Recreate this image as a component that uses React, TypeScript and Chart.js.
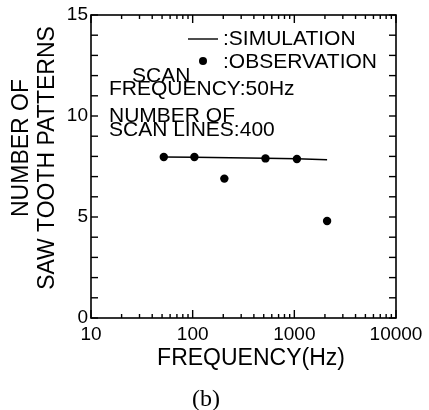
import React, { useEffect, useRef } from "react";
import { Chart, registerables } from "chart.js";

Chart.register(...registerables);

// ---- data ----
const OBS_FREQ = [52, 104, 205, 520, 1060, 2100];
const OBS_COUNT = [7.97, 7.97, 6.9, 7.9, 7.87, 4.8];
const SIM_FREQ = [52, 104, 520, 1060, 2100];
const SIM_COUNT = [7.97, 7.96, 7.91, 7.88, 7.83];
const X_DECADES = [10, 100, 1000, 10000];
const Y_LABELS = [0, 5, 10, 15];

const SANS = '"Liberation Sans", Arial, sans-serif';

const decorPlugin = {
  id: "decor",
  afterDraw(chart: any) {
    const { ctx, chartArea: a, scales } = chart;
    const xs = scales.x;
    const ys = scales.y;
    ctx.save();
    ctx.strokeStyle = "#000";
    ctx.fillStyle = "#000";
    ctx.lineWidth = 1.6;
    ctx.strokeRect(a.left, a.top, a.right - a.left, a.bottom - a.top);
    const seg = (x1: number, y1: number, x2: number, y2: number) => {
      ctx.beginPath();
      ctx.moveTo(x1, y1);
      ctx.lineTo(x2, y2);
      ctx.stroke();
    };
    ctx.lineWidth = 1.4;
    xs.ticks.forEach((t: any) => {
      const px = xs.getPixelForValue(t.value);
      const lg = Math.log10(t.value);
      const major = Math.abs(lg - Math.round(lg)) < 1e-6;
      const len = major ? 8 : 4;
      seg(px, a.bottom, px, a.bottom - len);
      seg(px, a.top, px, a.top + len);
    });
    ys.ticks.forEach((t: any) => {
      const py = ys.getPixelForValue(t.value);
      seg(a.left, py, a.left + 7, py);
      seg(a.right, py, a.right - 7, py);
    });

    // legend
    ctx.lineWidth = 1.4;
    seg(188, 39, 218, 39);
    ctx.beginPath();
    ctx.arc(203, 61, 4, 0, Math.PI * 2);
    ctx.fill();
    ctx.font = `21px ${SANS}`;
    ctx.textAlign = "left";
    ctx.textBaseline = "alphabetic";
    ctx.fillText(":SIMULATION", 223, 45);
    ctx.fillText(":OBSERVATION", 223, 67.5);

    // annotations
    ctx.fillText("SCAN", 132, 81.5);
    ctx.fillText("FREQUENCY:50Hz", 109, 95);
    ctx.fillText("NUMBER OF", 109, 121.5);
    ctx.fillText("SCAN LINES:400", 109, 136);

    // axis titles
    ctx.font = `23px ${SANS}`;
    ctx.textAlign = "center";
    ctx.fillText("FREQUENCY(Hz)", 251, 365);
    ctx.save();
    ctx.textBaseline = "middle";
    ctx.translate(22, 148);
    ctx.rotate(-Math.PI / 2);
    ctx.fillText("NUMBER OF", 0, 0);
    ctx.restore();
    ctx.save();
    ctx.textBaseline = "middle";
    ctx.translate(48, 158);
    ctx.rotate(-Math.PI / 2);
    ctx.fillText("SAW TOOTH PATTERNS", 0, 0);
    ctx.restore();

    // caption
    ctx.font = `24px "Liberation Serif", "Times New Roman", serif`;
    ctx.textAlign = "center";
    ctx.fillText("(b)", 206, 406);
    ctx.restore();
  },
};

export default function App() {
  const ref = useRef<HTMLCanvasElement | null>(null);
  useEffect(() => {
    if (!ref.current) return;
    const chart = new Chart(ref.current, {
      type: "scatter",
      data: {
        datasets: [
          {
            label: "SIMULATION",
            data: SIM_FREQ.map((f, i) => ({ x: f, y: SIM_COUNT[i] })),
            showLine: true,
            borderColor: "#000",
            borderWidth: 1.5,
            pointRadius: 0,
          },
          {
            label: "OBSERVATION",
            data: OBS_FREQ.map((f, i) => ({ x: f, y: OBS_COUNT[i] })),
            showLine: false,
            pointRadius: 4.2,
            pointBackgroundColor: "#000",
            pointBorderColor: "#000",
            pointBorderWidth: 0,
          },
        ],
      },
      options: {
        animation: false,
        responsive: false,
        devicePixelRatio: 1,
        layout: { padding: { top: 15, right: 33, left: 0, bottom: 0 } },
        plugins: { legend: { display: false }, tooltip: { enabled: false } },
        scales: {
          x: {
            type: "logarithmic",
            min: 10,
            max: 10000,
            grid: { display: false, drawTicks: false },
            border: { display: false },
            afterBuildTicks: (scale: any) => {
              const vals: number[] = [];
              for (let d = 0; d < X_DECADES.length - 1; d++) {
                for (let m = 1; m < 10; m++) vals.push(X_DECADES[d] * m);
              }
              vals.push(X_DECADES[X_DECADES.length - 1]);
              scale.ticks = vals.map((v) => ({ value: v }));
            },
            afterFit: (scale: any) => {
              scale.height = 92;
            },
            ticks: {
              autoSkip: false,
              maxRotation: 0,
              padding: 5,
              color: "#000",
              font: { family: SANS, size: 19 },
              callback: (v: any) => (X_DECADES.includes(Number(v)) ? String(v) : ""),
            },
          },
          y: {
            min: 0,
            max: 15,
            grid: { display: false, drawTicks: false },
            border: { display: false },
            afterFit: (scale: any) => {
              scale.width = 91;
            },
            ticks: {
              stepSize: 1,
              autoSkip: false,
              padding: 3,
              color: "#000",
              font: { family: SANS, size: 19 },
              callback: (v: any) => (Y_LABELS.includes(Number(v)) ? String(v) : ""),
            },
          },
        },
      },
      plugins: [decorPlugin],
    });
    return () => chart.destroy();
  }, []);
  return (
    <div style={{ position: "fixed", left: 0, top: 0, width: 429, height: 410, background: "#fff" }}>
      <canvas ref={ref} width={429} height={410} style={{ width: 429, height: 410 }} />
    </div>
  );
}
